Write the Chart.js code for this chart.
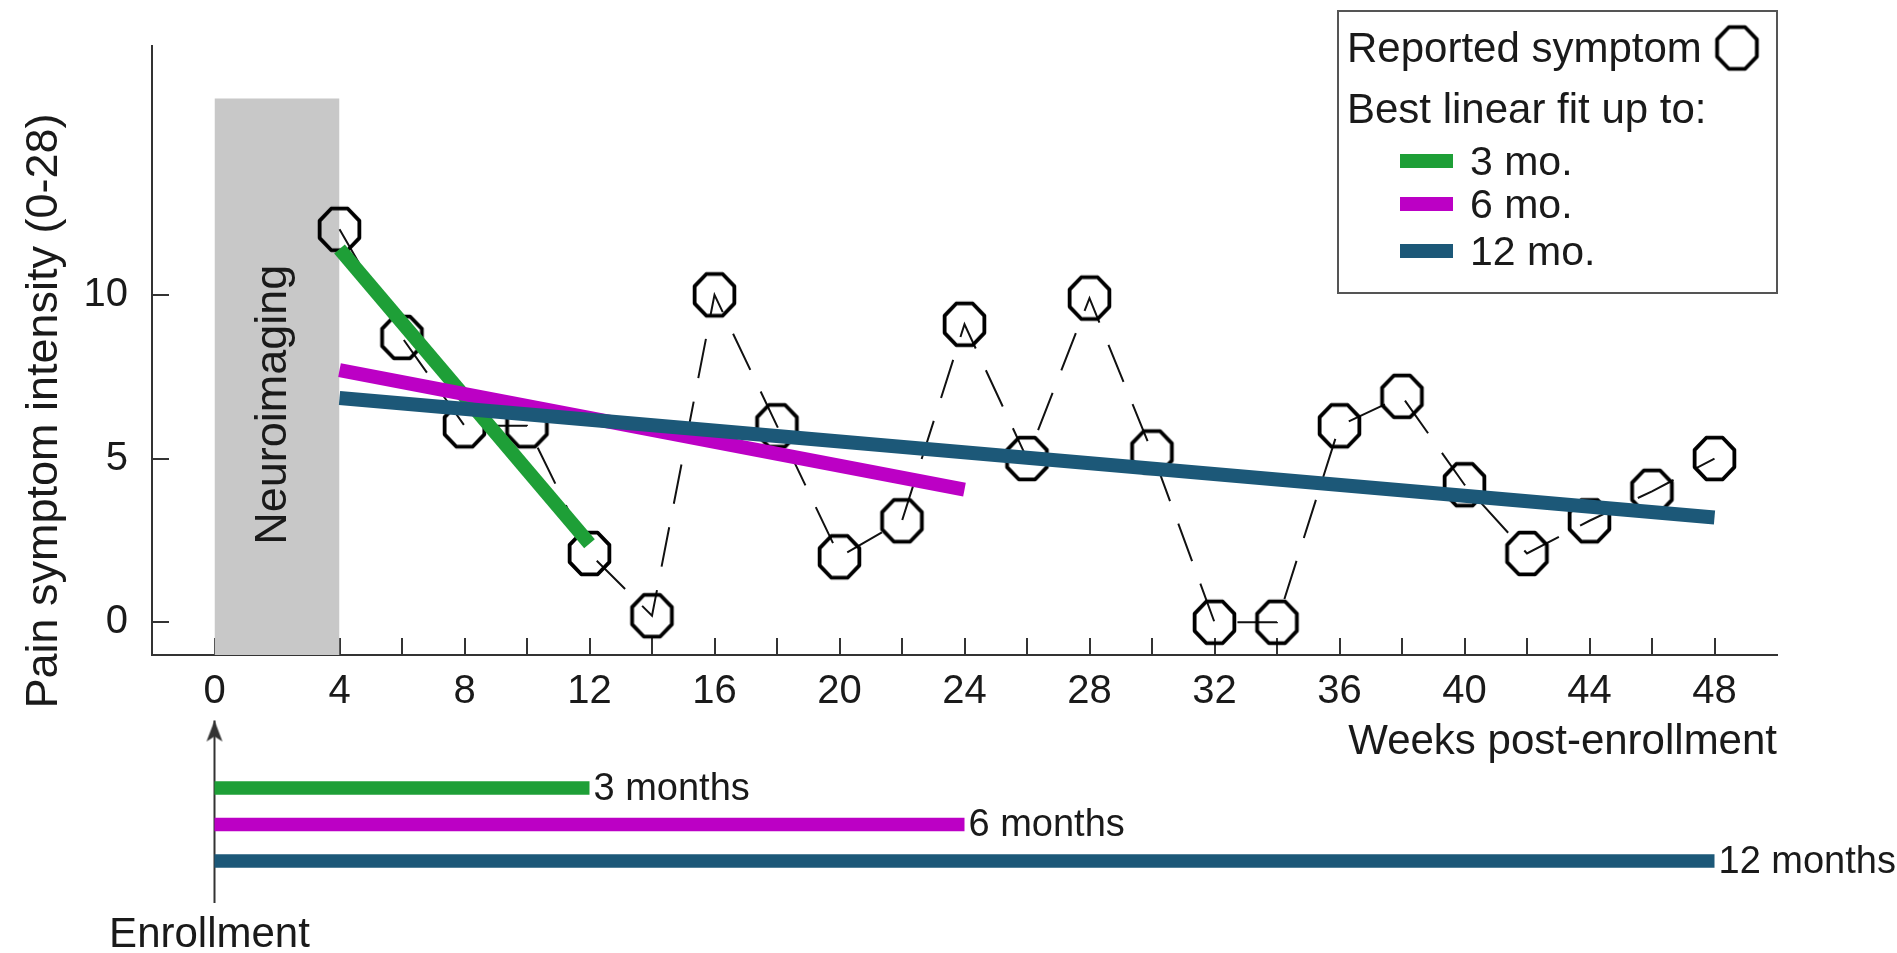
<!DOCTYPE html>
<html>
<head>
<meta charset="utf-8">
<script src="https://cdn.jsdelivr.net/npm/chart.js@4.4.0/dist/chart.umd.min.js"></script>
<style>
  html, body { margin: 0; padding: 0; background: #fff; }
  #wrap { position: relative; width: 1897px; height: 953px; }
  #wrap canvas { position: absolute; left: 0; top: 0; }
</style>
</head>
<body>
<div id="wrap">
  <canvas id="mainChart" width="1897" height="953"></canvas>
  <canvas id="spanChart" width="1897" height="953"></canvas>
</div>
<script>
// reported pain symptom, every 2 weeks
const weeks = [4, 6, 8, 10, 12, 14, 16, 18, 20, 22, 24, 26, 28, 30, 32, 34, 36, 38, 40, 42, 44, 46, 48];
const symptom = [12.0, 8.7, 6.0, 6.0, 2.1, 0.2, 10.0, 6.0, 2.0, 3.1, 9.1, 5.0, 9.9, 5.2, 0.0, 0.0, 6.0, 6.9, 4.2, 2.1, 3.1, 4.0, 5.0];

// best linear fits
const fitLabels = ['3 mo.', '6 mo.', '12 mo.'];
const fitFrom = [4, 4, 4];
const fitTo = [12, 24, 48];
const fitFromValue = [11.4, 7.7, 6.85];
const fitToValue = [2.4, 4.05, 3.2];

// enrollment windows
const spanLabels = ['3 months', '6 months', '12 months'];
const spanWeeks = [12, 24, 48];
const spanRows = [3, 2, 1];

// neuroimaging band
const neuroWeeks = [0, 4];
const neuroTop = 16;

const xTicks = [0, 2, 4, 6, 8, 10, 12, 14, 16, 18, 20, 22, 24, 26, 28, 30, 32, 34, 36, 38, 40, 42, 44, 46, 48];
const yTicks = [0, 5, 10];

const fitColors = ['#1e9f37', '#bc00c5', '#1c5878'];
const axisColor = '#333';
const textColor = '#1a1a1a';
const family = '"Liberation Sans", Arial, Helvetica, sans-serif';

Chart.defaults.font.family = family;
Chart.defaults.color = textColor;

function makeOctagon(rx, ry, lw) {
    const c = document.createElement('canvas');
    c.width = Math.ceil(2 * rx + lw + 2);
    c.height = Math.ceil(2 * ry + lw + 2);
    const g = c.getContext('2d');
    g.strokeStyle = '#000';
    g.lineWidth = lw;
    g.lineJoin = 'round';
    g.beginPath();
    for (let i = 0; i < 8; i++) {
        const a = Math.PI / 8 + i * Math.PI / 4;
        const px = c.width / 2 + rx * Math.cos(a), py = c.height / 2 + ry * Math.sin(a);
        if (i === 0) g.moveTo(px, py); else g.lineTo(px, py);
    }
    g.closePath();
    g.stroke();
    return c;
}

function makeArrowHead() {
    // tip sits at the centre of the canvas
    const c = document.createElement('canvas');
    c.width = 20;
    c.height = 46;
    const g = c.getContext('2d');
    g.fillStyle = axisColor;
    g.beginPath();
    g.moveTo(10, 23);
    g.lineTo(18, 44);
    g.lineTo(10, 39);
    g.lineTo(2, 44);
    g.closePath();
    g.fill();
    return c;
}

const octagon = makeOctagon(21.5, 22.5, 3.8);
const arrowHead = makeArrowHead();

const mainDecor = {
    id: 'mainDecor',
    afterDatasetsDraw(chart) {
        const { ctx, scales: { x, y } } = chart;
        ctx.save();
        ctx.fillStyle = textColor;
        ctx.font = '45px ' + family;
        ctx.textAlign = 'center';
        ctx.textBaseline = 'alphabetic';
        ctx.translate(x.getPixelForValue((neuroWeeks[0] + neuroWeeks[1]) / 2) + 9, (y.getPixelForValue(neuroTop) + y.bottom) / 2 + 28);
        ctx.rotate(-Math.PI / 2);
        ctx.fillText('Neuroimaging', 0, 0);
        ctx.restore();
    },
    afterDraw(chart) {
        const ctx = chart.ctx;
        ctx.save();
        ctx.fillStyle = textColor;

        // y axis title
        ctx.save();
        ctx.font = '45px ' + family;
        ctx.textAlign = 'center';
        ctx.textBaseline = 'alphabetic';
        ctx.translate(57, 411);
        ctx.rotate(-Math.PI / 2);
        ctx.fillText('Pain symptom intensity (0-28)', 0, 0);
        ctx.restore();

        // legend box
        ctx.strokeStyle = '#555';
        ctx.lineWidth = 2;
        ctx.strokeRect(1338, 11, 439, 282);
        ctx.font = '42px ' + family;
        ctx.textAlign = 'left';
        ctx.textBaseline = 'alphabetic';
        ctx.fillText('Reported symptom', 1347, 62);
        ctx.drawImage(octagon, 1737 - octagon.width / 2, 48 - octagon.height / 2);
        ctx.fillText('Best linear fit up to:', 1347, 123);
        const rowY = [161, 204, 251];
        ctx.font = '41px ' + family;
        fitLabels.forEach(function (lab, i) {
            ctx.fillStyle = chart.data.datasets[i + 2].borderColor;
            ctx.fillRect(1400, rowY[i] - 7, 53, 14);
            ctx.fillStyle = textColor;
            ctx.fillText(lab, 1470, rowY[i] + 14);
        });
        ctx.restore();
    }
};

const gridOpts = { drawOnChartArea: false, drawTicks: true, tickLength: -17, color: axisColor, lineWidth: 2 };

new Chart(document.getElementById('mainChart'), {
    type: 'line',
    data: {
        datasets: [
            {
                label: 'Neuroimaging',
                data: [{ x: neuroWeeks[0], y: neuroTop }, { x: neuroWeeks[1], y: neuroTop }],
                fill: 'start',
                backgroundColor: '#c8c8c8',
                borderWidth: 0,
                pointRadius: 0,
                order: 10
            },
            {
                label: 'Reported symptom',
                data: weeks.map(function (w, i) { return { x: w, y: symptom[i] }; }),
                borderColor: '#111',
                borderWidth: 2,
                borderDash: [40, 24],
                pointStyle: octagon,
                pointRadius: 22,
                order: 5
            }
        ].concat(fitLabels.map(function (lab, i) {
            return {
                label: lab,
                data: [{ x: fitFrom[i], y: fitFromValue[i] }, { x: fitTo[i], y: fitToValue[i] }],
                borderColor: fitColors[i],
                borderWidth: 14,
                borderCapStyle: 'butt',
                pointRadius: 0,
                order: 3 - i
            };
        }))
    },
    options: {
        responsive: false,
        animation: false,
        layout: { padding: { left: 0, right: 120, top: 46, bottom: 0 } },
        plugins: {
            legend: { display: false },
            tooltip: { enabled: false }
        },
        scales: {
            x: {
                type: 'linear',
                min: -2,
                max: 50,
                z: 1,
                afterBuildTicks: function (s) { s.ticks = xTicks.map(function (v) { return { value: v }; }); },
                afterFit: function (s) { s.height = 298; s.paddingLeft = 0; s.paddingRight = 0; },
                grid: gridOpts,
                border: { color: axisColor, width: 2 },
                ticks: {
                    font: { size: 40 },
                    padding: 30,
                    maxRotation: 0,
                    autoSkip: false,
                    callback: function (v) { return v % 4 === 0 ? v : ''; }
                },
                title: {
                    display: true,
                    text: 'Weeks post-enrollment',
                    align: 'end',
                    font: { size: 42 },
                    padding: { top: 0, bottom: 185 }
                }
            },
            y: {
                type: 'linear',
                min: -1,
                max: 17.6,
                z: 1,
                afterBuildTicks: function (s) { s.ticks = yTicks.map(function (v) { return { value: v }; }); },
                afterFit: function (s) { s.width = 152; s.paddingTop = 0; s.paddingBottom = 0; },
                grid: gridOpts,
                border: { color: axisColor, width: 2 },
                ticks: { font: { size: 40 }, padding: 41 }
            }
        }
    },
    plugins: [mainDecor]
});

const spanDecor = {
    id: 'spanDecor',
    afterDatasetsDraw(chart) {
        const { ctx, scales: { x, y } } = chart;
        ctx.save();
        ctx.fillStyle = textColor;
        ctx.font = '38px ' + family;
        ctx.textAlign = 'left';
        ctx.textBaseline = 'middle';
        spanLabels.forEach(function (lab, i) {
            ctx.fillText(lab, x.getPixelForValue(spanWeeks[i]) + 4, y.getPixelForValue(spanRows[i]) + 1);
        });
        ctx.font = '42px ' + family;
        ctx.textAlign = 'center';
        ctx.textBaseline = 'alphabetic';
        ctx.fillText('Enrollment', x.getPixelForValue(0) - 5, y.bottom + 44);
        ctx.restore();
    }
};

new Chart(document.getElementById('spanChart'), {
    type: 'line',
    data: {
        datasets: spanLabels.map(function (lab, i) {
            return {
                label: lab,
                data: [{ x: 0, y: spanRows[i] }, { x: spanWeeks[i], y: spanRows[i] }],
                borderColor: fitColors[i],
                borderWidth: 13.5,
                borderCapStyle: 'butt',
                pointRadius: 0,
                clip: false
            };
        }).concat([{
            label: 'Enrollment',
            data: [{ x: 0, y: -0.15 }, { x: 0, y: 4.85 }],
            borderColor: axisColor,
            borderWidth: 2,
            pointRadius: [0, 10],
            pointStyle: arrowHead,
            clip: false
        }])
    },
    options: {
        responsive: false,
        animation: false,
        layout: { padding: { left: 152, right: 120, top: 720.5, bottom: 50 } },
        plugins: {
            legend: { display: false },
            tooltip: { enabled: false }
        },
        scales: {
            x: { type: 'linear', min: -2, max: 50, display: false },
            y: { type: 'linear', min: -0.15, max: 4.85, display: false }
        }
    },
    plugins: [spanDecor]
});
</script>
</body>
</html>
